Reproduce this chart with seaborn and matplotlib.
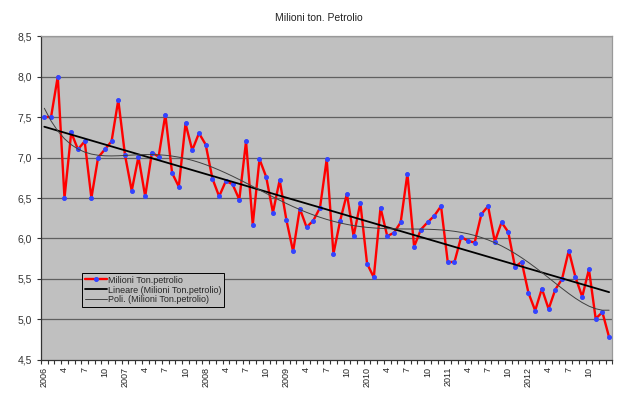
import numpy as np
import pandas as pd
import matplotlib
matplotlib.use("Agg")
import matplotlib.pyplot as plt
import seaborn as sns
from matplotlib.ticker import FixedLocator, FuncFormatter

# Milioni di tonnellate di petrolio, mensile gen 2006 - gen 2013
v2006 = [7.50, 7.50, 8.00, 6.50, 7.31, 7.10, 7.20, 6.50, 7.00, 7.10, 7.20, 7.71]
v2007 = [7.03, 6.59, 7.01, 6.52, 7.06, 7.01, 7.53, 6.81, 6.64, 7.42, 7.09, 7.30]
v2008 = [7.16, 6.74, 6.52, 6.71, 6.67, 6.48, 7.20, 6.17, 6.98, 6.76, 6.32, 6.72]
v2009 = [6.23, 5.84, 6.37, 6.14, 6.22, 6.38, 6.98, 5.81, 6.22, 6.55, 6.03, 6.44]
v2010 = [5.69, 5.52, 6.38, 6.03, 6.07, 6.20, 6.80, 5.90, 6.11, 6.20, 6.28, 6.40]
v2011 = [5.71, 5.71, 6.02, 5.97, 5.95, 6.30, 6.40, 5.96, 6.20, 6.08, 5.65, 5.71]
v2012 = [5.33, 5.11, 5.38, 5.13, 5.37, 5.50, 5.85, 5.52, 5.28, 5.62, 5.01, 5.09]
v2013 = [4.78]
years = [2006, 2007, 2008, 2009, 2010, 2011, 2012]

values = v2006 + v2007 + v2008 + v2009 + v2010 + v2011 + v2012 + v2013

# etichette categoria: anno a gennaio, poi solo il mese ogni 3
labels = []
for y in years:
    labels += [str(y), "", "", "4", "", "", "7", "", "", "10", "", ""]
labels += [""]

df = pd.DataFrame({"i": np.arange(len(values)), "val": values})

# linee di tendenza come in Excel
xs = df["i"].to_numpy() + 1.0
lin = np.polyval(np.polyfit(xs, df["val"], 1), xs)
poly = np.polyval(np.polyfit(xs, df["val"], 6), xs)

sns.set_theme(style="white", rc={"axes.facecolor": "#C0C0C0"})
plt.rcParams["font.family"] = ["Liberation Sans", "DejaVu Sans"]

fig = plt.figure(figsize=(6.4, 3.96), dpi=100)
ax = fig.add_axes([0.064, 0.091, 0.893, 0.818])

for yv in np.arange(5.0, 8.51, 0.5):
    ax.axhline(yv, color="#606060", lw=0.9, zorder=1)

sns.lineplot(data=df, x="i", y="val", ax=ax, color="#FF0000", lw=1.7,
             marker="o", markersize=2.8, markerfacecolor="#3344FF",
             markeredgecolor="#3344FF", label="Milioni Ton.petrolio", zorder=3)
ax.plot(df["i"], lin, color="black", lw=1.3, zorder=4,
        label="Lineare (Milioni Ton.petrolio)")
ax.plot(df["i"], poly, color="#404040", lw=0.7, zorder=4,
        label="Poli. (Milioni Ton.petrolio)")

ax.set_xlim(-0.5, len(values) - 0.5)
ax.set_ylim(4.5, 8.5)
ax.set_xlabel("")
ax.set_ylabel("")

ax.xaxis.set_major_locator(FixedLocator([i for i, l in enumerate(labels) if l]))
ax.set_xticklabels([l for l in labels if l], rotation=90, fontsize=6.5, color="#222222")
ax.xaxis.set_minor_locator(FixedLocator(np.arange(-0.5, len(values), 1.0)))
ax.tick_params(axis="x", which="major", length=0, pad=5)
ax.tick_params(axis="x", which="minor", length=3, width=0.8, color="#333333", bottom=True)

ax.set_yticks(np.arange(4.5, 8.51, 0.5))
ax.yaxis.set_major_formatter(FuncFormatter(lambda v, p: f"{v:.1f}".replace(".", ",")))
ax.tick_params(axis="y", length=3, width=0.8, color="#333333", labelsize=7.5,
               labelcolor="#333333", left=True)

for side in ["left", "bottom"]:
    ax.spines[side].set_color("#333333")
    ax.spines[side].set_linewidth(0.9)
for side in ["top", "right"]:
    ax.spines[side].set_color("#999999")
    ax.spines[side].set_linewidth(0.9)

leg = ax.legend(loc="lower left", bbox_to_anchor=(0.072, 0.163), fontsize=6.5,
                frameon=True, fancybox=False, framealpha=1, edgecolor="black",
                borderpad=0.3, labelspacing=0.1, handlelength=2.5, handletextpad=0.1,
                borderaxespad=0)
leg.get_frame().set_linewidth(0.7)

fig.text(0.498, 0.955, "Milioni ton. Petrolio", ha="center", va="center",
         fontsize=7.5, color="#222222")

fig.savefig("out.png", dpi=100)
